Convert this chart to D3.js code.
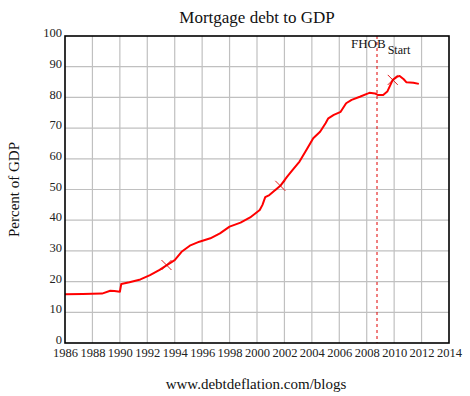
<!DOCTYPE html>
<html>
<head>
<meta charset="utf-8">
<script src="https://cdn.jsdelivr.net/npm/d3@7"></script>
<style>
  body { margin: 0; background: #fff; }
  svg { display: block; }
  svg text { font-family: "Liberation Serif", "Times New Roman", serif; }
</style>
</head>
<body>
<svg id="svg"></svg>
<script>
// mortgage debt as percent of GDP
const years = [1986.0, 1987.3, 1988.7, 1989.3, 1989.6, 1990.0, 1990.1, 1990.7, 1991.5, 1992.2, 1992.9, 1993.4, 1994.0, 1994.5,
  1995.1, 1995.8, 1996.6, 1997.3, 1998.0, 1998.8, 1999.5, 2000.2, 2000.4, 2000.6, 2000.9, 2001.7, 2002.2, 2002.6,
  2003.1, 2003.6, 2004.1, 2004.6, 2005.0, 2005.2, 2005.6, 2006.1, 2006.5, 2006.9, 2007.5, 2008.1, 2008.2, 2008.6,
  2008.8, 2009.2, 2009.5, 2009.9, 2010.2, 2010.4, 2010.7, 2010.9, 2011.4, 2011.8];
const debt = [15.9, 16.0, 16.1, 17.0, 16.9, 16.7, 19.2, 19.8, 20.7, 22.1, 23.8, 25.3, 27.0, 29.7,
  31.7, 33.0, 34.1, 35.7, 37.9, 39.2, 40.9, 43.3, 45.0, 47.5, 48.2, 51.2, 54.2, 56.4,
  59.1, 62.9, 66.7, 68.8, 71.6, 73.2, 74.3, 75.3, 78.1, 79.2, 80.2, 81.3, 81.5, 81.3,
  80.8, 80.8, 81.9, 85.7, 86.7, 87.0, 85.9, 84.9, 84.8, 84.4];
const markerYears = [1993.4, 2001.7, 2009.9];
const markerValues = [25.4, 51.2, 85.7];
const fhobYear = 2008.75;
const xTicks = d3.range(1986, 2015, 2);
const yTicks = d3.range(0, 101, 10);

const width = 470, height = 396;
const m = {left: 65, right: 21, top: 36, bottom: 53};

const svg = d3.select("#svg").attr("width", width).attr("height", height);

const x = d3.scaleLinear([1986, 2014], [m.left, width - m.right]);
const y = d3.scaleLinear([0, 100], [height - m.bottom, m.top]);

// grid
svg.append("g")
  .selectAll("line")
  .data(xTicks.slice(1, -1))
  .join("line")
  .attr("x1", d => x(d)).attr("x2", d => x(d))
  .attr("y1", y(0)).attr("y2", y(100))
  .attr("stroke", "#c0c0c0").attr("stroke-width", 1.2);
svg.append("g")
  .selectAll("line")
  .data(yTicks.slice(1, -1))
  .join("line")
  .attr("x1", x(1986)).attr("x2", x(2014))
  .attr("y1", d => y(d)).attr("y2", d => y(d))
  .attr("stroke", "#c0c0c0").attr("stroke-width", 1.2);

// axes, labels only
const xAxis = svg.append("g")
  .attr("transform", `translate(0,${y(0)})`)
  .call(d3.axisBottom(x).tickValues(xTicks).tickFormat(d3.format("d")).tickSize(0).tickPadding(4));
const yAxis = svg.append("g")
  .attr("transform", `translate(${x(1986) - 1},0)`)
  .call(d3.axisLeft(y).tickValues(yTicks).tickSize(0).tickPadding(2));
[xAxis, yAxis].forEach(g => {
  g.attr("font-family", "Times New Roman").attr("font-size", 12.5);
  g.select(".domain").remove();
  g.selectAll("text").attr("fill", "#222");
});
xAxis.selectAll("text").attr("dy", "0.78em");
yAxis.selectAll("text").attr("dy", "0.05em");

// FHOB start line
svg.append("line")
  .attr("x1", x(fhobYear)).attr("x2", x(fhobYear))
  .attr("y1", y(100)).attr("y2", y(0))
  .attr("stroke", "#e00000").attr("stroke-width", 1)
  .attr("stroke-dasharray", "3,3");

// data line
svg.append("path")
  .datum(d3.zip(years, debt))
  .attr("fill", "none")
  .attr("stroke", "#ff0000")
  .attr("stroke-width", 2)
  .attr("stroke-linejoin", "round")
  .attr("d", d3.line().x(d => x(d[0])).y(d => y(d[1])));

// cross markers
svg.append("g")
  .selectAll("path")
  .data(d3.zip(markerYears, markerValues))
  .join("path")
  .attr("fill", "none").attr("stroke", "#e00000").attr("stroke-width", 0.9)
  .attr("d", d => {
    const cx = x(d[0]), cy = y(d[1]), r = 5;
    return `M${cx - r},${cy - r}L${cx + r},${cy + r}M${cx - r},${cy + r}L${cx + r},${cy - r}`;
  });

// frame
svg.append("rect")
  .attr("x", x(1986)).attr("y", y(100))
  .attr("width", x(2014) - x(1986)).attr("height", y(0) - y(100))
  .attr("fill", "none").attr("stroke", "#000").attr("stroke-width", 1.6);

// annotation
const ann = svg.append("text")
  .attr("x", x(fhobYear) - 26).attr("y", y(100) + 12)
  .attr("font-size", 13).attr("fill", "#111");
ann.append("tspan").text("FHOB");
ann.append("tspan").attr("dy", 6).attr("font-size", 12).attr("dx", 2).text("Start");

// titles
svg.append("text")
  .attr("x", 257).attr("y", 23)
  .attr("text-anchor", "middle").attr("font-size", 17).attr("fill", "#111")
  .text("Mortgage debt to GDP");
svg.append("text")
  .attr("transform", `translate(19,${(y(0) + y(100)) / 2}) rotate(-90)`)
  .attr("text-anchor", "middle").attr("font-size", 15).attr("fill", "#111")
  .text("Percent of GDP");
svg.append("text")
  .attr("x", 256).attr("y", 389)
  .attr("text-anchor", "middle").attr("font-size", 15).attr("fill", "#111")
  .text("www.debtdeflation.com/blogs");
</script>
</body>
</html>
